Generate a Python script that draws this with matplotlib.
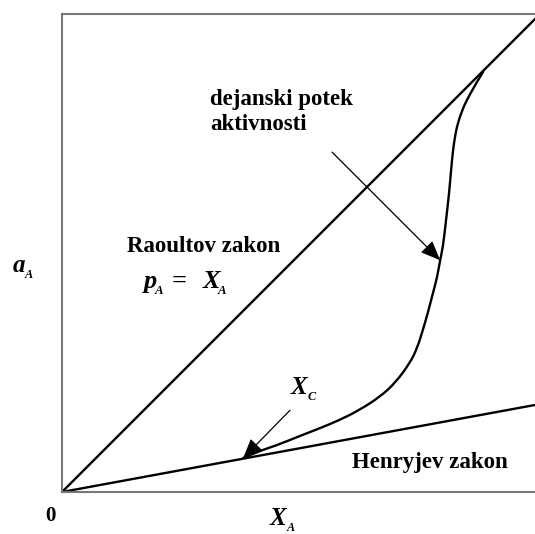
import numpy as np
import matplotlib.pyplot as plt
from matplotlib.path import Path
from matplotlib.patches import PathPatch

plt.rcParams['font.family'] = 'Liberation Serif'
plt.rcParams['mathtext.fontset'] = 'custom'
plt.rcParams['mathtext.rm'] = 'Liberation Serif:bold'
plt.rcParams['mathtext.it'] = 'Liberation Serif:italic:bold'

# Raoult and Henry laws
x_line = [0.0, 0.99]
raoult = [0.0, 0.99]
henry_slope = 0.184

xa = [0.379, 0.408, 0.450, 0.492, 0.536, 0.582, 0.623, 0.665, 0.697, 0.728,
      0.743, 0.755, 0.766, 0.776, 0.785, 0.791, 0.797, 0.803, 0.810, 0.814,
      0.818, 0.822, 0.828, 0.839, 0.847, 0.864, 0.881]
aa = [0.071, 0.084, 0.098, 0.115, 0.132, 0.151, 0.172, 0.199, 0.228, 0.270,
      0.301, 0.339, 0.377, 0.416, 0.450, 0.485, 0.513, 0.565, 0.626, 0.674,
      0.715, 0.743, 0.772, 0.803, 0.820, 0.851, 0.879]

W, H = 535, 534
fig = plt.figure(figsize=(W / 100, H / 100), dpi=100)
ax = fig.add_axes([62 / W, 1 - 492 / H, 1 - 62 / W, (492 - 14) / H])
ax.set_xlim(0, 473 / 478)
ax.set_ylim(0, 1)
ax.set_xticks([])
ax.set_yticks([])
for s in ['left', 'top', 'bottom']:
    ax.spines[s].set_color('#777777')
    ax.spines[s].set_linewidth(1.5)
ax.spines['right'].set_visible(False)

ax.plot(x_line, raoult, color='black', lw=1.7)
ax.plot(x_line, [henry_slope * v for v in x_line], color='black', lw=1.7)

# smooth the read points with quadratic segments through the midpoints
pts = list(zip(xa, aa))
verts = [pts[0]]
codes = [Path.MOVETO]
for i in range(1, len(pts) - 1):
    mid = ((pts[i][0] + pts[i + 1][0]) / 2, (pts[i][1] + pts[i + 1][1]) / 2)
    verts += [pts[i], mid]
    codes += [Path.CURVE3, Path.CURVE3]
verts.append(pts[-1])
codes.append(Path.LINETO)
ax.add_patch(PathPatch(Path(verts, codes), fill=False, edgecolor='black',
                       lw=1.7, capstyle='round'))

arrow = dict(arrowstyle='-|>,head_length=1.2,head_width=0.5', color='black',
             lw=0.9, shrinkA=0, shrinkB=0)
ax.annotate('', xy=(0.791, 0.485), xytext=(0.565, 0.711), arrowprops=arrow)
ax.annotate('', xy=(0.379, 0.071), xytext=(0.477, 0.171), arrowprops=arrow)

tb = dict(fontsize=16.5, fontweight='bold', ha='left', va='center')
ax.text(0.310, 0.822, 'dejanski potek', **tb)
ax.text(0.310, 0.768, 'aktivnosti', **tb)
ax.text(0.136, 0.513, 'Raoultov zakon', **tb)
ax.text(0.606, 0.062, 'Henryjev zakon', **tb)
ax.text(0.168, 0.437, r'$p_{\!_A}\,=\;\;X_{\!_A}$', fontsize=19, ha='left', va='center')
ax.text(0.477, 0.215, r'$X_{_C}$', fontsize=18, ha='left', va='center')

fig.text(12 / W, 1 - 270 / H, r'$a_{_A}$', fontsize=18, ha='left', va='center')
fig.text(50 / W, 1 - 516 / H, '0', fontsize=15, fontweight='bold', ha='center', va='center')
fig.text(283 / W, 1 - 520 / H, r'$X_{_A}$', fontsize=18, ha='center', va='center')

fig.savefig('out.png', dpi=100)
